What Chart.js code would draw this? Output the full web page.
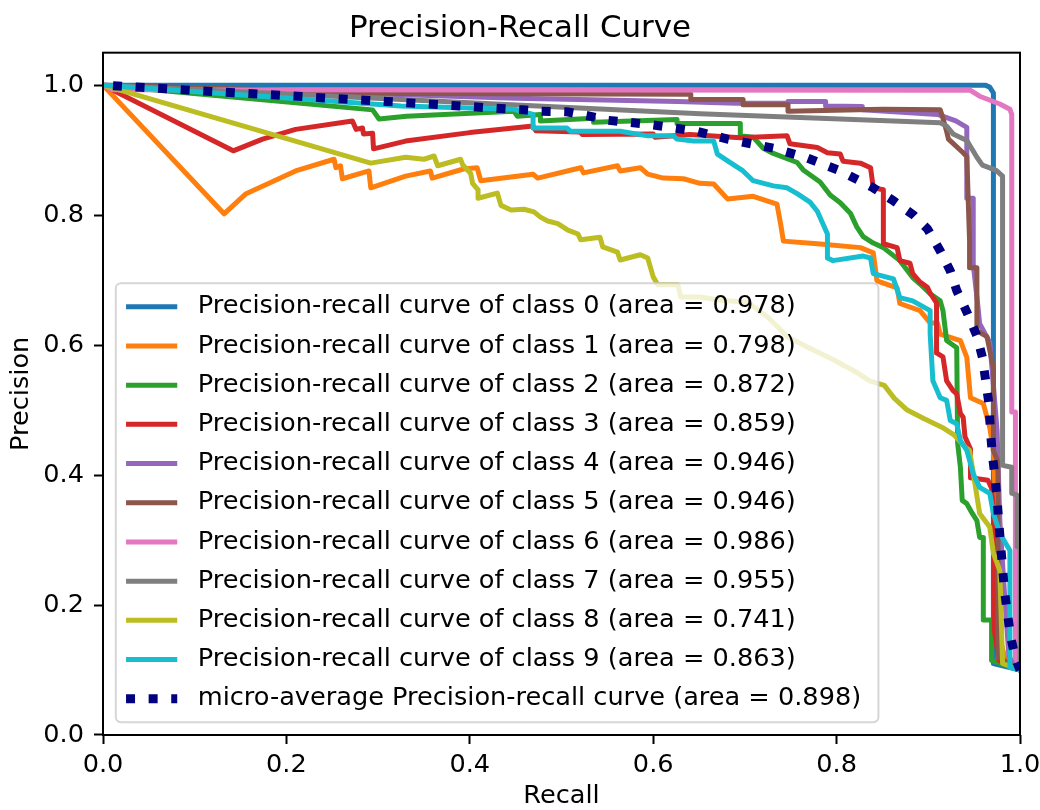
<!DOCTYPE html>
<html><head><meta charset="utf-8">
<script src="https://cdn.jsdelivr.net/npm/chart.js@4.4.1/dist/chart.umd.min.js"></script>
<style>html,body{margin:0;padding:0;background:#fff;} canvas{display:block;}</style>
</head><body>
<canvas id="c" width="1040" height="810" style="width:1040px;height:810px"></canvas>
<script>
// ---- data (recall, precision) ----
const xTickValues = [0.0, 0.2, 0.4, 0.6, 0.8, 1.0];
const yTickValues = [0.0, 0.2, 0.4, 0.6, 0.8, 1.0];
const classNames = ['0','1','2','3','4','5','6','7','8','9'];
const classAreas = [0.978, 0.798, 0.872, 0.859, 0.946, 0.946, 0.986, 0.955, 0.741, 0.863];
const microArea = 0.898;
const seriesColors = ['#1f77b4','#ff7f0e','#2ca02c','#d62728','#9467bd','#8c564b','#e377c2','#7f7f7f','#bcbd22','#17becf'];
const microColor = '#000080';

const prClass0 = [[0,1],[0.962,1.0],[0.967,0.997],[0.971,0.988],[0.971,0.11],[1.0,0.1]];
const prClass1 = [[0,1],[0.132,0.802],[0.156,0.833],[0.181,0.849],[0.210,0.868],[0.252,0.886],[0.254,0.873],[0.259,0.876],[0.261,0.856],[0.290,0.868],[0.292,0.842],[0.330,0.860],[0.357,0.868],[0.359,0.857],[0.393,0.871],[0.408,0.873],[0.412,0.853],[0.469,0.863],[0.474,0.857],[0.521,0.873],[0.524,0.865],[0.561,0.876],[0.564,0.868],[0.586,0.873],[0.594,0.863],[0.611,0.857],[0.633,0.856],[0.651,0.849],[0.666,0.848],[0.681,0.825],[0.709,0.829],[0.735,0.817],[0.739,0.786],[0.742,0.760],[0.779,0.756],[0.826,0.750],[0.840,0.742],[0.844,0.699],[0.866,0.688],[0.869,0.664],[0.891,0.653],[0.902,0.634],[0.910,0.634],[0.913,0.617],[0.935,0.607],[0.942,0.581],[0.946,0.519],[0.960,0.510],[0.967,0.473],[0.971,0.438],[0.975,0.30],[0.978,0.15],[0.985,0.11],[1.0,0.1]];
const prClass2 = [[0,1],[0.294,0.962],[0.301,0.948],[0.331,0.952],[0.448,0.960],[0.452,0.952],[0.477,0.955],[0.477,0.945],[0.535,0.949],[0.535,0.943],[0.626,0.947],[0.626,0.941],[0.695,0.941],[0.695,0.922],[0.709,0.920],[0.720,0.903],[0.731,0.895],[0.757,0.881],[0.764,0.869],[0.782,0.851],[0.793,0.831],[0.804,0.819],[0.815,0.803],[0.822,0.782],[0.829,0.767],[0.840,0.757],[0.851,0.750],[0.869,0.730],[0.883,0.704],[0.891,0.694],[0.902,0.679],[0.913,0.668],[0.916,0.653],[0.920,0.607],[0.931,0.596],[0.932,0.449],[0.935,0.412],[0.937,0.361],[0.942,0.356],[0.948,0.341],[0.953,0.330],[0.956,0.304],[0.960,0.304],[0.960,0.177],[0.969,0.177],[0.969,0.115],[1.0,0.1]];
const prClass3 = [[0,1],[0.142,0.899],[0.174,0.917],[0.210,0.932],[0.272,0.945],[0.276,0.932],[0.283,0.934],[0.284,0.925],[0.294,0.926],[0.295,0.902],[0.330,0.914],[0.400,0.927],[0.469,0.937],[0.472,0.930],[0.520,0.928],[0.523,0.924],[0.600,0.925],[0.602,0.920],[0.640,0.924],[0.695,0.919],[0.746,0.922],[0.749,0.910],[0.779,0.904],[0.790,0.896],[0.804,0.894],[0.807,0.883],[0.826,0.880],[0.837,0.873],[0.840,0.842],[0.851,0.839],[0.851,0.756],[0.866,0.750],[0.869,0.730],[0.880,0.726],[0.883,0.710],[0.891,0.697],[0.899,0.689],[0.902,0.680],[0.909,0.665],[0.909,0.588],[0.916,0.582],[0.920,0.545],[0.927,0.530],[0.931,0.525],[0.935,0.495],[0.938,0.489],[0.940,0.459],[0.946,0.440],[0.946,0.396],[0.965,0.392],[0.969,0.380],[0.971,0.345],[0.972,0.161],[0.977,0.115],[1.0,0.1]];
const prClass4 = [[0,1],[0.450,0.980],[0.627,0.975],[0.690,0.972],[0.747,0.972],[0.747,0.975],[0.788,0.975],[0.788,0.968],[0.828,0.967],[0.828,0.962],[0.910,0.955],[0.930,0.945],[0.942,0.935],[0.942,0.826],[0.949,0.826],[0.949,0.725],[0.954,0.661],[0.956,0.633],[0.967,0.604],[0.970,0.556],[0.975,0.468],[0.978,0.330],[0.983,0.220],[0.988,0.120],[1.0,0.1]];
const prClass5 = [[0,1],[0.325,0.987],[0.641,0.986],[0.641,0.978],[0.698,0.978],[0.698,0.970],[0.747,0.970],[0.747,0.960],[0.850,0.963],[0.913,0.962],[0.916,0.949],[0.920,0.929],[0.922,0.917],[0.938,0.896],[0.942,0.890],[0.945,0.760],[0.945,0.719],[0.953,0.719],[0.953,0.622],[0.964,0.613],[0.971,0.565],[0.971,0.438],[0.976,0.420],[0.976,0.120],[1.0,0.1]];
const prClass6 = [[0,1],[0.010,0.993],[0.946,0.992],[0.956,0.983],[0.978,0.971],[0.989,0.963],[0.991,0.955],[0.991,0.497],[0.995,0.497],[0.995,0.120],[1.0,0.1]];
const prClass7 = [[0,1],[0.651,0.956],[0.913,0.942],[0.920,0.937],[0.927,0.925],[0.942,0.915],[0.945,0.908],[0.953,0.889],[0.959,0.877],[0.974,0.869],[0.981,0.860],[0.981,0.415],[0.991,0.412],[0.991,0.372],[0.997,0.369],[0.997,0.290],[1.0,0.289],[1.0,0.1]];
const prClass8 = [[0,1],[0.292,0.880],[0.330,0.889],[0.350,0.886],[0.361,0.891],[0.365,0.876],[0.390,0.886],[0.392,0.878],[0.401,0.864],[0.403,0.849],[0.409,0.839],[0.409,0.826],[0.430,0.834],[0.434,0.815],[0.445,0.808],[0.459,0.809],[0.470,0.805],[0.477,0.797],[0.485,0.791],[0.496,0.787],[0.507,0.777],[0.518,0.771],[0.521,0.762],[0.542,0.766],[0.545,0.751],[0.561,0.743],[0.564,0.731],[0.586,0.739],[0.594,0.734],[0.600,0.705],[0.605,0.693],[0.627,0.693],[0.630,0.674],[0.651,0.674],[0.673,0.669],[0.703,0.666],[0.725,0.643],[0.747,0.612],[0.768,0.597],[0.797,0.577],[0.823,0.557],[0.836,0.545],[0.852,0.538],[0.863,0.518],[0.877,0.500],[0.895,0.487],[0.917,0.472],[0.928,0.462],[0.941,0.442],[0.945,0.438],[0.948,0.412],[0.956,0.341],[0.967,0.320],[0.971,0.280],[0.978,0.253],[0.981,0.110],[1.0,0.1]];
const prClass9 = [[0,1],[0.325,0.968],[0.448,0.963],[0.469,0.955],[0.469,0.934],[0.506,0.934],[0.510,0.929],[0.564,0.929],[0.594,0.922],[0.622,0.922],[0.626,0.917],[0.644,0.914],[0.666,0.914],[0.670,0.894],[0.687,0.878],[0.698,0.868],[0.709,0.853],[0.731,0.845],[0.746,0.842],[0.757,0.833],[0.771,0.820],[0.779,0.806],[0.790,0.771],[0.790,0.734],[0.796,0.730],[0.829,0.737],[0.837,0.734],[0.840,0.710],[0.862,0.702],[0.869,0.673],[0.883,0.668],[0.902,0.653],[0.902,0.618],[0.905,0.545],[0.913,0.519],[0.920,0.515],[0.924,0.484],[0.931,0.479],[0.935,0.453],[0.942,0.438],[0.949,0.402],[0.956,0.381],[0.967,0.372],[0.971,0.341],[0.978,0.310],[0.989,0.284],[0.989,0.104],[1.0,0.1]];
const prMicro = [[0,1],[0.309,0.975],[0.458,0.962],[0.477,0.960],[0.506,0.959],[0.532,0.952],[0.550,0.946],[0.594,0.940],[0.648,0.929],[0.681,0.917],[0.731,0.903],[0.768,0.888],[0.804,0.868],[0.840,0.842],[0.862,0.822],[0.884,0.800],[0.899,0.779],[0.913,0.745],[0.924,0.714],[0.931,0.684],[0.942,0.651],[0.953,0.614],[0.959,0.581],[0.962,0.551],[0.966,0.511],[0.968,0.463],[0.970,0.430],[0.973,0.393],[0.975,0.362],[0.977,0.326],[0.979,0.290],[0.981,0.257],[0.983,0.223],[0.986,0.190],[0.990,0.150],[0.995,0.118],[1.0,0.1]];

const classCurves = [prClass0, prClass1, prClass2, prClass3, prClass4, prClass5, prClass6, prClass7, prClass8, prClass9];

// ---- chart ----
const FONT = 'DejaVu Sans';
const FS = 25.6;
Chart.defaults.font.family = FONT;
Chart.defaults.color = '#000';

const toPoints = pts => pts.map(([r, p]) => ({x: r, y: p}));
const datasets = classCurves.map((pts, i) => ({
  label: `Precision-recall curve of class ${classNames[i]} (area = ${classAreas[i].toFixed(3)})`,
  data: toPoints(pts),
  borderColor: seriesColors[i],
  backgroundColor: seriesColors[i],
  borderWidth: 5,
  borderJoinStyle: 'round',
  borderCapStyle: 'butt',
  pointRadius: 0,
  tension: 0,
  fill: false,
  order: 20 - i
}));
datasets.push({
  label: `micro-average Precision-recall curve (area = ${microArea.toFixed(3)})`,
  data: toPoints(prMicro),
  borderColor: microColor,
  backgroundColor: microColor,
  borderWidth: 9,
  borderDash: [9, 13.6],
  borderDashOffset: 12.6,
  borderCapStyle: 'butt',
  borderJoinStyle: 'miter',
  pointRadius: 0,
  tension: 0,
  fill: false,
  order: 0
});

function roundRectPath(ctx, x, y, w, h, r) {
  ctx.beginPath();
  ctx.moveTo(x + r, y);
  ctx.lineTo(x + w - r, y);
  ctx.arcTo(x + w, y, x + w, y + r, r);
  ctx.lineTo(x + w, y + h - r);
  ctx.arcTo(x + w, y + h, x + w - r, y + h, r);
  ctx.lineTo(x + r, y + h);
  ctx.arcTo(x, y + h, x, y + h - r, r);
  ctx.lineTo(x, y + r);
  ctx.arcTo(x, y, x + r, y, r);
  ctx.closePath();
}

const frameAndLegend = {
  id: 'frameAndLegend',
  afterDatasetsDraw(chart) {
    const {ctx, chartArea: a} = chart;
    ctx.save();
    // axes frame (spines)
    ctx.strokeStyle = '#000';
    ctx.lineWidth = 2;
    ctx.strokeRect(a.left, a.top, a.right - a.left, a.bottom - a.top);
    // legend (lower left, matplotlib style)
    const ds = chart.data.datasets;
    ctx.font = `${FS}px "${FONT}"`;
    const pad = 0.4 * FS, spacing = 0.5 * FS, handleLen = 2 * FS, textPad = 0.8 * FS, axPad = 0.5 * FS, rowH = 26.4;
    let maxW = 0;
    ds.forEach(d => { maxW = Math.max(maxW, ctx.measureText(d.label).width); });
    const w = pad * 2 + handleLen + textPad + maxW + 7;
    const h = pad * 2 + ds.length * rowH + (ds.length - 1) * spacing;
    const x0 = a.left + axPad, y0 = a.bottom - axPad - h;
    roundRectPath(ctx, x0, y0, w, h, 0.2 * FS);
    ctx.fillStyle = 'rgba(255,255,255,0.8)';
    ctx.fill();
    ctx.strokeStyle = 'rgba(204,204,204,0.8)';
    ctx.lineWidth = 2;
    ctx.stroke();
    ds.forEach((d, i) => {
      const cy = y0 + pad + rowH / 2 + i * (rowH + spacing);
      ctx.save();
      ctx.beginPath();
      ctx.strokeStyle = d.borderColor;
      ctx.lineWidth = d.borderWidth;
      ctx.lineCap = 'butt';
      ctx.setLineDash(d.borderDash || []);
      ctx.moveTo(x0 + pad, cy);
      ctx.lineTo(x0 + pad + handleLen, cy);
      ctx.stroke();
      ctx.restore();
      ctx.fillStyle = '#000';
      ctx.textAlign = 'left';
      ctx.textBaseline = 'middle';
      ctx.fillText(d.label, x0 + pad + handleLen + textPad, cy);
    });
    ctx.restore();
  }
};

new Chart(document.getElementById('c'), {
  type: 'line',
  data: {datasets},
  options: {
    responsive: false,
    animation: false,
    devicePixelRatio: 1,
    layout: {padding: {left: 0, right: 0, top: 0, bottom: 0}},
    plugins: {
      legend: {display: false},
      tooltip: {enabled: false},
      title: {
        display: true,
        text: 'Precision-Recall Curve',
        color: '#000',
        font: {family: FONT, size: 30.9, weight: 'normal'},
        padding: {top: 10, bottom: 5.6}
      }
    },
    scales: {
      x: {
        type: 'linear',
        min: 0, max: 1,
        afterBuildTicks: s => { s.ticks = xTickValues.map(v => ({value: v})); },
        afterFit: s => { s.height = 75; s.paddingRight = 20; },
        ticks: {
          autoSkip: false, maxRotation: 0, padding: 6, color: '#000',
          font: {family: FONT, size: FS},
          callback: v => Number(v).toFixed(1)
        },
        grid: {display: true, drawOnChartArea: false, drawTicks: true, tickLength: 9, tickWidth: 2, tickColor: '#000'},
        border: {display: false},
        title: {display: true, text: 'Recall', color: '#000', font: {family: FONT, size: FS}, padding: {top: 0, bottom: -2}}
      },
      y: {
        type: 'linear',
        min: 0, max: 1.05,
        afterBuildTicks: s => { s.ticks = yTickValues.map(v => ({value: v})); },
        afterFit: s => { s.width = 103; },
        ticks: {
          autoSkip: false, padding: 10, color: '#000',
          font: {family: FONT, size: FS},
          callback: v => Number(v).toFixed(1)
        },
        grid: {display: true, drawOnChartArea: false, drawTicks: true, tickLength: 9, tickWidth: 2, tickColor: '#000'},
        border: {display: false},
        title: {display: true, text: 'Precision', color: '#000', font: {family: FONT, size: FS}, padding: {top: 6, bottom: 0}}
      }
    }
  },
  plugins: [frameAndLegend]
});
</script>
</body></html>
